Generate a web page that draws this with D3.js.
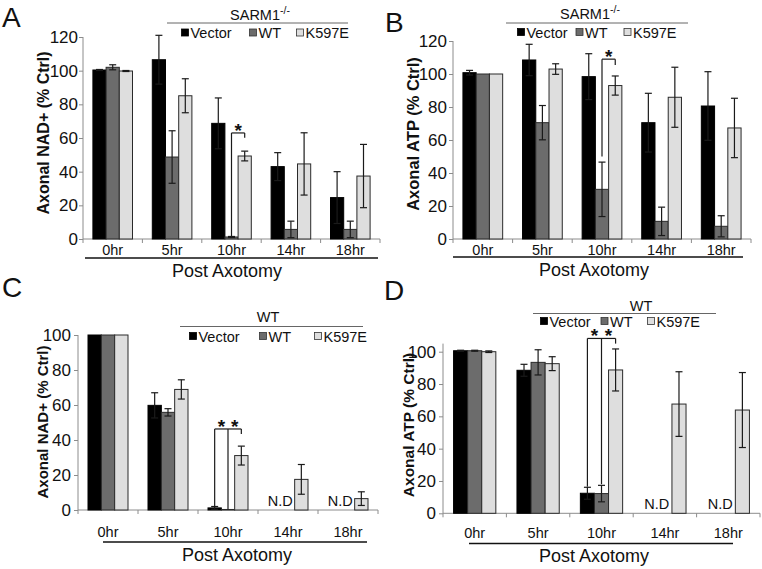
<!DOCTYPE html>
<html>
<head>
<meta charset="utf-8" />
<title>Axonal NAD+ and ATP after axotomy</title>
<script src="https://cdn.jsdelivr.net/npm/d3@7"></script>
<style>
  body { margin: 0; background: #fff; }
  svg text { font-family: "Liberation Sans", Arial, sans-serif; fill: #111; }
</style>
</head>
<body>
<svg width="762" height="569"></svg>
<script>

// categories
var hours = ["0hr", "5hr", "10hr", "14hr", "18hr"];
var groups = ["Vector", "WT", "K597E"];

// A - axonal NAD+, SARM1-/- neurons
var aVector = [100.4, 106.5, 68.7, 43.0, 24.6];
var aVectorErr = [0.3, 14.5, 15.1, 8.3, 15.4];
var aWT = [102.0, 48.7, 1.2, 5.7, 5.7];
var aWTErr = [1.5, 15.6, 0.3, 4.9, 4.9];
var aK597E = [99.8, 85.1, 49.3, 44.6, 37.4];
var aK597EErr = [0.3, 10.1, 2.9, 18.5, 18.8];

// B - axonal ATP, SARM1-/- neurons
var bVector = [100.8, 108.5, 98.4, 70.5, 80.6];
var bVectorErr = [1.4, 9.5, 13.9, 17.8, 20.8];
var bWT = [100.0, 70.5, 30.1, 10.7, 7.7];
var bWTErr = [0, 10.4, 16.5, 8.6, 6.4];
var bK597E = [100.0, 103.0, 93.0, 85.9, 67.3];
var bK597EErr = [0, 3.2, 5.8, 18.2, 18.0];

// C - axonal NAD+, WT neurons (null = N.D)
var cVector = [100, 59.8, 1.2, null, null];
var cVectorErr = [0, 7.2, 0.8, 0, 0];
var cWT = [100, 55.8, 0.3, null, null];
var cWTErr = [0, 2.1, 0, 0, 0];
var cK597E = [100, 68.9, 31.1, 17.5, 6.5];
var cK597EErr = [0, 5.5, 5.4, 8.5, 3.9];

// D - axonal ATP, WT neurons (null = N.D)
var dVector = [100.6, 88.5, 12.4, null, null];
var dVectorErr = [0.3, 3.7, 3.7, 0, 0];
var dWT = [100.6, 93.4, 12.2, null, null];
var dWTErr = [0.3, 7.8, 5.1, 0, 0];
var dK597E = [100, 92.6, 88.7, 67.6, 63.9];
var dK597EErr = [0.5, 4.3, 13.0, 20.0, 23.2];

// y tick labels
var ticks120 = [0, 20, 40, 60, 80, 100, 120];
var ticks100 = [0, 20, 40, 60, 80, 100];

// significance brackets at 10hr: legs start at given value, join at top, drop to K597E
var aSig = { hour: "10hr", legs: [["WT", 1.2]], top: 63, drop: 60.2 };
var bSig = { hour: "10hr", legs: [["WT", 50]], top: 109, drop: 105.5 };
var cSig = { hour: "10hr", legs: [["Vector", 2.3], ["WT", 0.4]], top: 46.3, drop: 43.5 };
var dSig = { hour: "10hr", legs: [["Vector", 16.5], ["WT", 18]], top: 108.2, drop: 105 };

var colors = { Vector: "#000000", WT: "#6c6c6c", K597E: "#dedede" };

var svg = d3.select("svg");
svg.append("rect").attr("width", 762).attr("height", 569).attr("fill", "#fff");

function drawPanel(p) {
    var g = svg.append("g");

    var x = d3.scaleBand().domain(hours).range([p.x0, p.x1]);
    var sub = d3.scaleBand().domain(groups).range([0, x.bandwidth()]).paddingOuter(0.75);
    var y = d3.scaleLinear().domain([0, p.max]).range([p.y0, p.yTop]);

    var rows = [];
    groups.forEach(function (s, si) {
        hours.forEach(function (h, i) {
            rows.push({ hour: h, series: s, value: p.values[si][i], err: p.errs[si][i] });
        });
    });
    var shown = rows.filter(function (d) { return d.value !== null; });

    // y axis
    var yAxis = g.append("g")
        .attr("transform", "translate(" + p.x0 + ",0)")
        .call(d3.axisLeft(y).tickValues(p.ticks).tickSize(4).tickPadding(p.tickPad).tickSizeOuter(0));
    yAxis.select(".domain").attr("stroke", "#8c8c8c")
        .attr("d", "M0," + y(0) + "V" + y(p.axisMax));
    yAxis.selectAll(".tick line").attr("stroke", "#8c8c8c");
    yAxis.selectAll(".tick text").attr("font-size", 17).style("font-family", "Liberation Sans, Arial, sans-serif").attr("fill", "#111");

    // x axis line with boundary ticks
    g.append("line").attr("x1", p.x0).attr("x2", p.x1).attr("y1", y(0)).attr("y2", y(0))
        .attr("stroke", "#8c8c8c");
    g.selectAll(".xt").data(hours.concat(["end"])).enter().append("line")
        .attr("x1", function (d, i) { return p.x0 + i * x.step(); })
        .attr("x2", function (d, i) { return p.x0 + i * x.step(); })
        .attr("y1", y(0)).attr("y2", y(0) + 4)
        .attr("stroke", "#8c8c8c");

    // bars
    g.selectAll(".bar").data(shown).enter().append("rect")
        .attr("x", function (d) { return x(d.hour) + sub(d.series); })
        .attr("width", sub.bandwidth())
        .attr("y", function (d) { return y(d.value); })
        .attr("height", function (d) { return y(0) - y(d.value); })
        .attr("fill", function (d) { return colors[d.series]; })
        .attr("stroke", function (d) { return d.series === "Vector" ? "#000" : "#2a2a2a"; })
        .attr("stroke-width", 1);

    // error bars
    var eb = g.selectAll(".err").data(shown.filter(function (d) { return d.err > 0.2; })).enter().append("g")
        .attr("stroke", "#1a1a1a").attr("stroke-width", 1.2);
    function cx(d) { return x(d.hour) + sub(d.series) + sub.bandwidth() / 2; }
    eb.append("line")
        .attr("x1", cx).attr("x2", cx)
        .attr("y1", function (d) { return y(d.value + d.err); })
        .attr("y2", function (d) { return y(Math.max(0, d.value - d.err)); });
    [1, -1].forEach(function (sgn) {
        eb.append("line")
            .attr("x1", function (d) { return cx(d) - 3.5; })
            .attr("x2", function (d) { return cx(d) + 3.5; })
            .attr("y1", function (d) { return y(Math.max(0, d.value + sgn * d.err)); })
            .attr("y2", function (d) { return y(Math.max(0, d.value + sgn * d.err)); });
    });

    // N.D labels
    g.selectAll(".nd").data(rows.filter(function (d) { return d.series === "Vector" && d.value === null; }))
        .enter().append("text")
        .attr("x", function (d) { return x(d.hour) + sub("WT") - 1; })
        .attr("y", y(0) - 4)
        .attr("text-anchor", "middle")
        .attr("font-size", 14.5)
        .text("N.D");

    // significance bracket
    var s = p.sig;
    var kx = x(s.hour) + sub("K597E") + sub.bandwidth() / 2;
    var legX = s.legs.map(function (l) { return x(s.hour) + sub(l[0]) + sub.bandwidth() / 2; });
    var br = g.append("g").attr("stroke", "#1a1a1a").attr("stroke-width", 1.2).attr("fill", "none");
    s.legs.forEach(function (l, i) {
        br.append("line").attr("x1", legX[i]).attr("x2", legX[i])
            .attr("y1", y(l[1])).attr("y2", y(s.top));
    });
    br.append("line").attr("x1", legX[0]).attr("x2", kx).attr("y1", y(s.top)).attr("y2", y(s.top));
    br.append("line").attr("x1", kx).attr("x2", kx).attr("y1", y(s.top)).attr("y2", y(s.drop));
    var stops = legX.concat([kx]);
    for (var i = 0; i < stops.length - 1; i++) {
        g.append("text")
            .attr("x", (stops[i] + stops[i + 1]) / 2)
            .attr("y", y(s.top) + 4)
            .attr("text-anchor", "middle")
            .attr("font-size", 19)
            .attr("font-weight", "bold")
            .text("*");
    }

    // category labels
    g.selectAll(".cat").data(hours).enter().append("text")
        .attr("x", function (d) { return x(d) + x.bandwidth() / 2; })
        .attr("y", p.catY)
        .attr("text-anchor", "middle")
        .attr("font-size", 14.5)
        .text(function (d) { return d; });

    // underline and axis title
    g.append("line").attr("x1", p.ul[0]).attr("x2", p.ul[1]).attr("y1", p.ul[2]).attr("y2", p.ul[2])
        .attr("stroke", "#111").attr("stroke-width", 1.6);
    g.append("text").attr("x", p.title[0]).attr("y", p.title[1])
        .attr("text-anchor", "middle").attr("font-size", 18).text("Post Axotomy");

    // y label
    g.append("text")
        .attr("transform", "translate(" + p.ylab[0] + "," + p.ylab[1] + ") rotate(-90)")
        .attr("text-anchor", "middle")
        .attr("dominant-baseline", "central")
        .attr("font-size", p.ylab[2])
        .attr("font-weight", "bold")
        .text(p.ylabel);

    // panel letter
    g.append("text").attr("x", p.letter[0]).attr("y", p.letter[1])
        .attr("font-size", 28).text(p.name);

    // legend header
    var hd = g.append("text").attr("x", p.head[0]).attr("y", p.head[1])
        .attr("text-anchor", "middle").attr("font-size", 14.5);
    hd.append("tspan").text(p.headText);
    if (p.headSup) {
        hd.append("tspan").attr("font-size", 10.5).attr("dy", -6).text(p.headSup);
    }
    g.append("line").attr("x1", p.headLine[0]).attr("x2", p.headLine[1])
        .attr("y1", p.headLine[2]).attr("y2", p.headLine[2])
        .attr("stroke", "#666").attr("stroke-width", 1);

    // legend items
    var lg = g.selectAll(".lg").data(groups).enter().append("g")
        .attr("transform", function (d, i) { return "translate(" + p.legX[i] + "," + p.legY + ")"; });
    lg.append("rect").attr("x", 0).attr("y", -9).attr("width", 7).attr("height", 7)
        .attr("fill", function (d) { return colors[d]; })
        .attr("stroke", function (d) { return d === "Vector" ? "#000" : "#333"; })
        .attr("stroke-width", 0.8);
    lg.append("text").attr("x", 9).attr("y", 0).attr("font-size", 14.5).text(function (d) { return d; });
}

drawPanel({
    name: "A", x0: 83, x1: 380, y0: 239, yTop: 37, max: 120, axisMax: 120, ticks: ticks120, tickPad: 1,
    values: [aVector, aWT, aK597E], errs: [aVectorErr, aWTErr, aK597EErr], sig: aSig,
    catY: 255, ul: [85, 378, 258], title: [227, 277],
    ylab: [43, 133, 16], ylabel: "Axonal NAD+ (% Ctrl)", letter: [2, 27],
    head: [260, 20], headText: "SARM1", headSup: "-/-", headLine: [167, 348, 23],
    legX: [181.5, 249.5, 296.5], legY: 38
});

drawPanel({
    name: "B", x0: 453, x1: 751, y0: 239, yTop: 41, max: 120, axisMax: 120, ticks: ticks120, tickPad: 2,
    values: [bVector, bWT, bK597E], errs: [bVectorErr, bWTErr, bK597EErr], sig: bSig,
    catY: 255, ul: [453, 743, 257], title: [594, 276],
    ylab: [413, 134, 16.5], ylabel: "Axonal ATP (% Ctrl)", letter: [385, 32],
    head: [590, 19], headText: "SARM1", headSup: "-/-", headLine: [506, 688, 23],
    legX: [517.5, 576, 624], legY: 37.5
});

drawPanel({
    name: "C", x0: 78, x1: 378, y0: 510, yTop: 335, max: 100, axisMax: 100, ticks: ticks100, tickPad: 3,
    values: [cVector, cWT, cK597E], errs: [cVectorErr, cWTErr, cK597EErr], sig: cSig,
    catY: 537, ul: [103, 367, 542], title: [237, 561],
    ylab: [42, 422, 15], ylabel: "Axonal NAD+ (% Ctrl)", letter: [2, 297],
    head: [268, 322], headText: "WT", headSup: null, headLine: [180, 363, 326.5],
    legX: [189.5, 259.5, 314.5], legY: 341.5
});

drawPanel({
    name: "D", x0: 443, x1: 760, y0: 513.3, yTop: 351.7, max: 100, axisMax: 105, ticks: ticks100, tickPad: 3,
    values: [dVector, dWT, dK597E], errs: [dVectorErr, dWTErr, dK597EErr], sig: dSig,
    catY: 538, ul: [469, 733, 543.5], title: [594, 562],
    ylab: [408, 425, 15.5], ylabel: "Axonal ATP (% Ctrl)", letter: [384, 300],
    head: [641, 310.5], headText: "WT", headSup: null, headLine: [533, 716, 313.5],
    legX: [540.5, 601, 647.5], legY: 326.5
});

</script>
</body>
</html>
